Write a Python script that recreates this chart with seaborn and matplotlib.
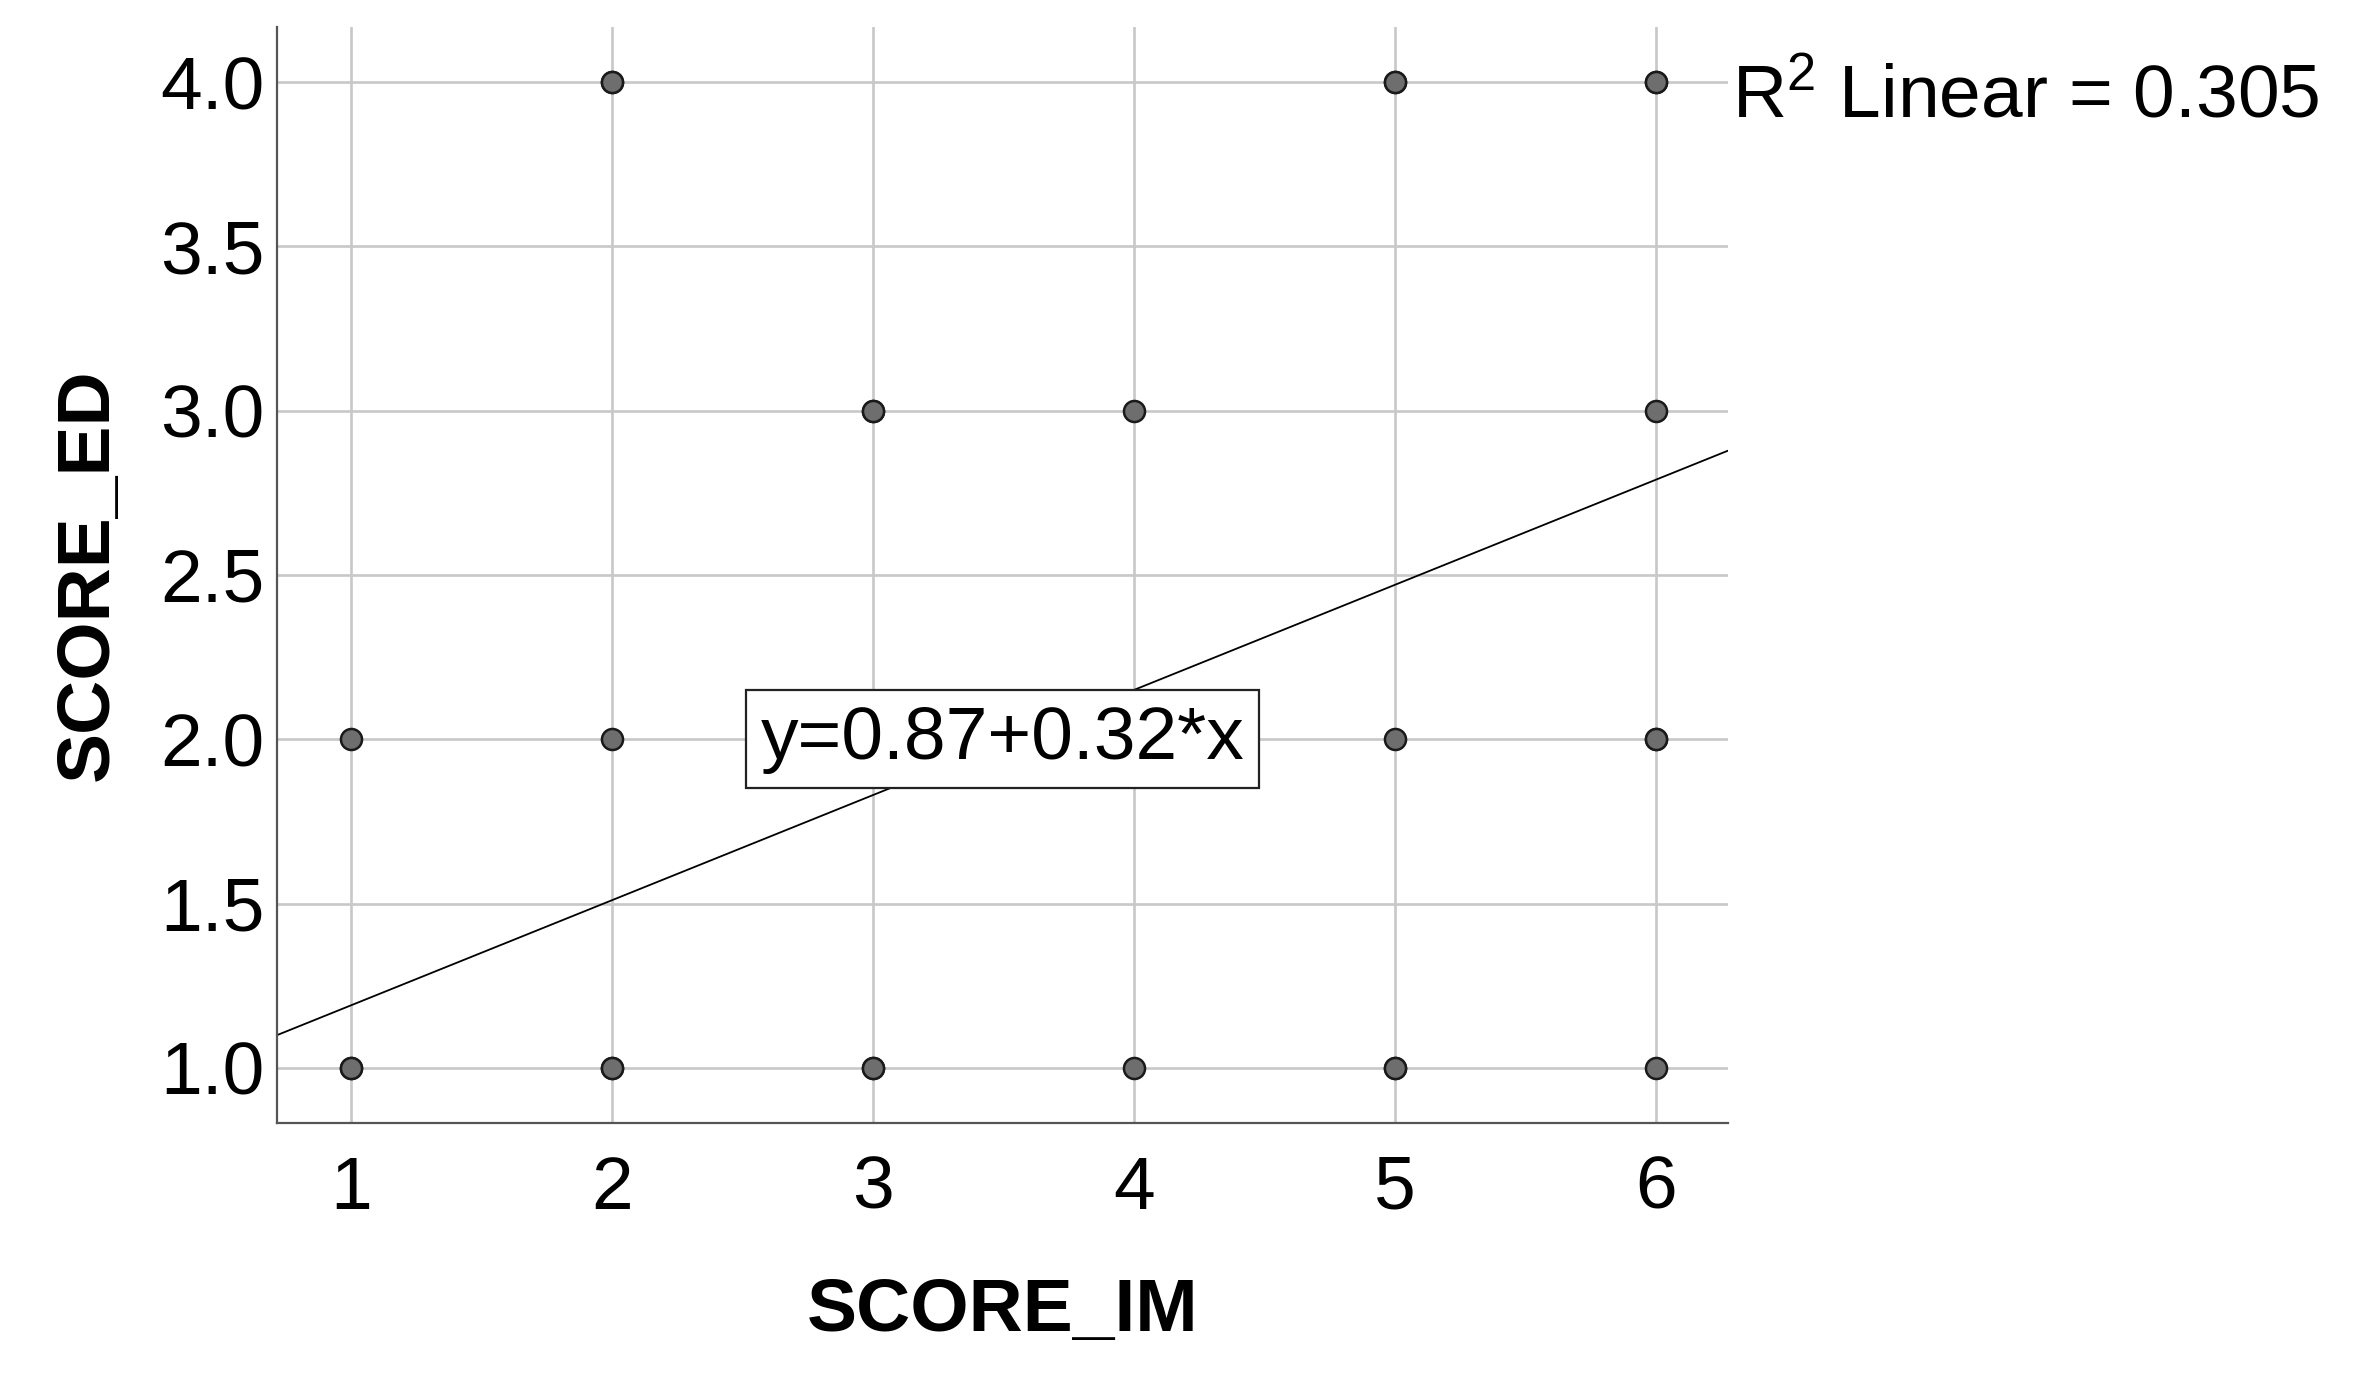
import numpy as np
import pandas as pd
import seaborn as sns
import matplotlib.pyplot as plt

# ---- data (repeated pairs are over-plotted cases) ----
score_im = [1, 1, 1, 2, 2, 2, 2, 2, 3, 3, 3, 3, 4, 4, 5, 5, 5, 5, 5, 6, 6, 6, 6, 6, 6]
score_ed = [1, 1, 2, 1, 1, 2, 4, 4, 1, 1, 3, 3, 1, 3, 1, 1, 2, 4, 4, 1, 2, 2, 3, 4, 4]
intercept = 0.87
slope = 0.32
r2_linear = 0.305
x_ticks = [1, 2, 3, 4, 5, 6]
y_ticks = [1.0, 1.5, 2.0, 2.5, 3.0, 3.5, 4.0]
x_limits = (0.7165, 6.276)
y_limits = (0.832, 4.168)

sns.set_theme(style="whitegrid")
plt.rcParams["font.family"] = ["Liberation Sans", "DejaVu Sans"]
plt.rcParams["mathtext.fontset"] = "custom"
plt.rcParams["mathtext.rm"] = "Liberation Sans"
plt.rcParams["mathtext.it"] = "Liberation Sans:italic"
plt.rcParams["mathtext.bf"] = "Liberation Sans:bold"
plt.rcParams["text.color"] = "black"
plt.rcParams["axes.labelcolor"] = "black"
plt.rcParams["xtick.color"] = "black"
plt.rcParams["ytick.color"] = "black"

df = pd.DataFrame({"SCORE_IM": score_im, "SCORE_ED": score_ed})

fig = plt.figure(figsize=(23.57, 13.84), dpi=100)
ax = fig.add_axes([0.1175, 0.1886, 0.6156, 0.7919])
ax.set_facecolor("white")

# regression line across the full x range
line_x = np.array(x_limits)
line_y = intercept + slope * line_x
sns.lineplot(x=line_x, y=line_y, color="black", linewidth=1.3, ax=ax, zorder=2)

sns.scatterplot(data=df, x="SCORE_IM", y="SCORE_ED", s=230, color="#6e6e6e",
                edgecolor="#1a1a1a", linewidth=1.8, ax=ax, zorder=3)

ax.set_xlim(*x_limits)
ax.set_ylim(*y_limits)
ax.set_xticks(x_ticks)
ax.set_xticklabels([str(v) for v in x_ticks])
ax.set_yticks(y_ticks)
ax.set_yticklabels([f"{v:.1f}" for v in y_ticks])

ax.grid(True, color="#c8c8c8", linewidth=1.9)
ax.set_axisbelow(True)
for side in ["top", "right"]:
    ax.spines[side].set_visible(False)
for side in ["left", "bottom"]:
    ax.spines[side].set_visible(True)
    ax.spines[side].set_color("#555555")
    ax.spines[side].set_linewidth(1.6)

ax.tick_params(axis="both", length=0, labelsize=54, labelcolor="black")
ax.tick_params(axis="x", pad=23)
ax.tick_params(axis="y", pad=9)

ax.set_xlabel("SCORE_IM", fontsize=54, fontweight="bold", labelpad=38, color="black")
ax.set_ylabel("SCORE_ED", fontsize=54, fontweight="bold", labelpad=27, color="black")

# equation box in centre of plot
ax.text(np.mean(x_limits), 2.0, f"y={intercept:.2f}+{slope:.2f}*x",
        fontsize=54, ha="center", va="center", zorder=4, color="black",
        bbox=dict(boxstyle="square,pad=0.19", fc="white", ec="#222222", lw=1.6))

# R^2 label outside top right
ax.text(6.29, 3.893, r"R$^{\mathrm{2}}$ Linear = " + f"{r2_linear:.3f}",
        fontsize=54, ha="left", va="baseline", clip_on=False, color="black")

fig.savefig("out.png", dpi=100, facecolor="white")
